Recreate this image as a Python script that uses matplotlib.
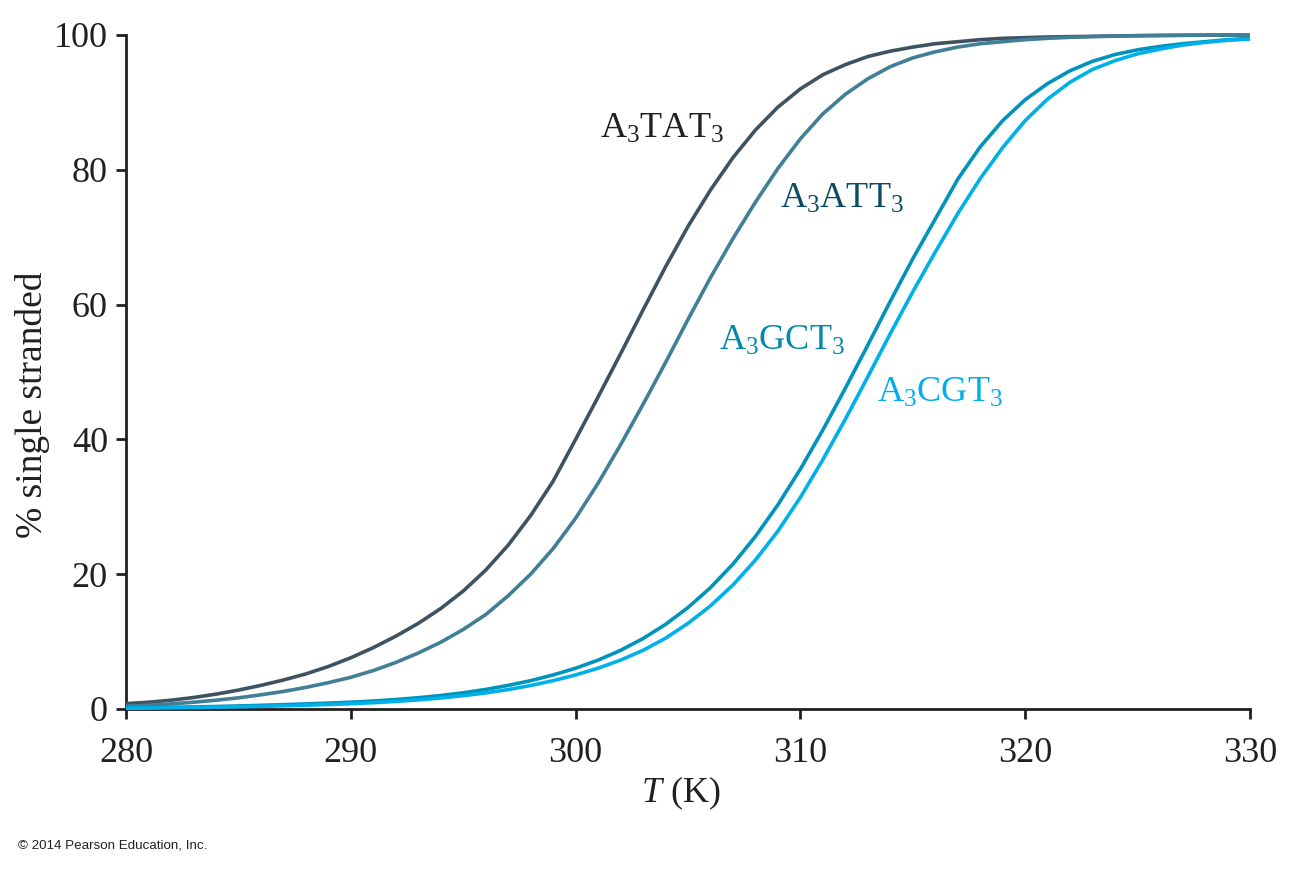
#!/usr/bin/env python3
import matplotlib
matplotlib.use("Agg")
import matplotlib.pyplot as plt
import matplotlib.ticker as ticker

# temperature grid (K) and % single stranded
temp_k = list(range(280, 331))

pct_tat = [0.8, 1.0, 1.3, 1.7, 2.2, 2.8, 3.5, 4.3, 5.2, 6.3,
           7.6, 9.1, 10.8, 12.7, 14.9, 17.5, 20.6, 24.3, 28.7, 33.8,
           40.0, 46.3, 52.7, 59.2, 65.6, 71.6, 77.0, 81.8, 85.9, 89.3,
           92.0, 94.1, 95.6, 96.8, 97.6, 98.2, 98.7, 99.0, 99.3, 99.5,
           99.6, 99.7, 99.75, 99.8, 99.85, 99.9, 99.93, 99.95, 99.97, 99.98, 100]

pct_att = [0.4, 0.55, 0.75, 1.0, 1.3, 1.65, 2.1, 2.6, 3.2, 3.9,
           4.7, 5.7, 6.9, 8.3, 9.9, 11.8, 14.0, 16.8, 20.0, 23.8,
           28.3, 33.5, 39.2, 45.2, 51.4, 57.8, 64.0, 69.8, 75.2, 80.2,
           84.6, 88.3, 91.2, 93.5, 95.3, 96.6, 97.5, 98.2, 98.7, 99.0,
           99.3, 99.5, 99.65, 99.75, 99.83, 99.88, 99.92, 99.95, 99.97, 99.99, 100]

pct_gct = [0.15, 0.2, 0.25, 0.3, 0.37, 0.45, 0.54, 0.64, 0.75, 0.87,
           1.0, 1.18, 1.4, 1.67, 2.0, 2.4, 2.9, 3.5, 4.2, 5.05,
           6.05, 7.25, 8.7, 10.45, 12.55, 15.05, 18.0, 21.5, 25.6, 30.3,
           35.6, 41.4, 47.6, 54.0, 60.5, 66.8, 72.7, 78.6, 83.4, 87.3,
           90.4, 92.8, 94.7, 96.1, 97.1, 97.8, 98.3, 98.7, 99.0, 99.3, 99.5]

pct_cgt = [0.1, 0.13, 0.17, 0.21, 0.26, 0.32, 0.39, 0.47, 0.56, 0.66,
           0.78, 0.93, 1.12, 1.35, 1.63, 1.97, 2.38, 2.88, 3.48, 4.2,
           5.05, 6.05, 7.25, 8.7, 10.5, 12.7, 15.3, 18.4, 22.1, 26.4,
           31.4, 37.0, 43.0, 49.3, 55.7, 61.9, 67.8, 73.5, 78.7, 83.3,
           87.3, 90.5, 93.0, 94.9, 96.2, 97.2, 97.9, 98.5, 98.9, 99.2, 99.4]

labels = [r"$\mathrm{A_3TAT_3}$", r"$\mathrm{A_3ATT_3}$",
          r"$\mathrm{A_3GCT_3}$", r"$\mathrm{A_3CGT_3}$"]
label_x = [301.1, 309.1, 306.4, 313.4]
label_y = [84.8, 74.4, 53.3, 45.6]

line_colors = ["#3e5361", "#417f96", "#0093bb", "#00b0ea"]
text_colors = ["#231f20", "#0b4c65", "#0089ab", "#00aeef"]

plt.rcParams["font.family"] = ["Liberation Serif", "DejaVu Serif"]
plt.rcParams["mathtext.fontset"] = "custom"
plt.rcParams["mathtext.rm"] = "Liberation Serif"
plt.rcParams["mathtext.it"] = "Liberation Serif:italic"

fig = plt.figure(figsize=(12.94, 8.85), dpi=100)
ax = fig.add_axes([0.0974, 0.1989, 0.8686, 0.7616])

for series, col in zip([pct_tat, pct_att, pct_gct, pct_cgt], line_colors):
    ax.plot(temp_k, series, color=col, linewidth=2.6,
            solid_capstyle="butt", solid_joinstyle="round",
            clip_on=False, zorder=3)

for lab, lx, ly, col in zip(labels, label_x, label_y, text_colors):
    ax.text(lx, ly, lab, color=col, fontsize=26, va="baseline", ha="left")

ax.set_xlim(280, 330)
ax.set_ylim(0, 100)
ax.xaxis.set_major_locator(ticker.MultipleLocator(10))
ax.yaxis.set_major_locator(ticker.MultipleLocator(20))

for side in ["top", "right"]:
    ax.spines[side].set_visible(False)
for side in ["left", "bottom"]:
    ax.spines[side].set_linewidth(2.0)
    ax.spines[side].set_color("#231f20")

ax.tick_params(axis="both", direction="out", length=7, width=2.0,
               color="#231f20", labelsize=26, labelcolor="#231f20")
ax.tick_params(axis="x", pad=13)
ax.tick_params(axis="y", pad=6)

ax.set_xlabel(r"$T$ (K)", fontsize=26, color="#231f20")
ax.xaxis.set_label_coords(0.4938, -0.097)
ax.set_ylabel("% single stranded", fontsize=27, color="#231f20")
ax.yaxis.set_label_coords(-0.068, 0.451)

fig.text(0.014, 0.041, "\u00a9 2014 Pearson Education, Inc.",
         fontsize=9.6, family="Liberation Sans", color="#231f20")

fig.savefig("out.png", dpi=100)
